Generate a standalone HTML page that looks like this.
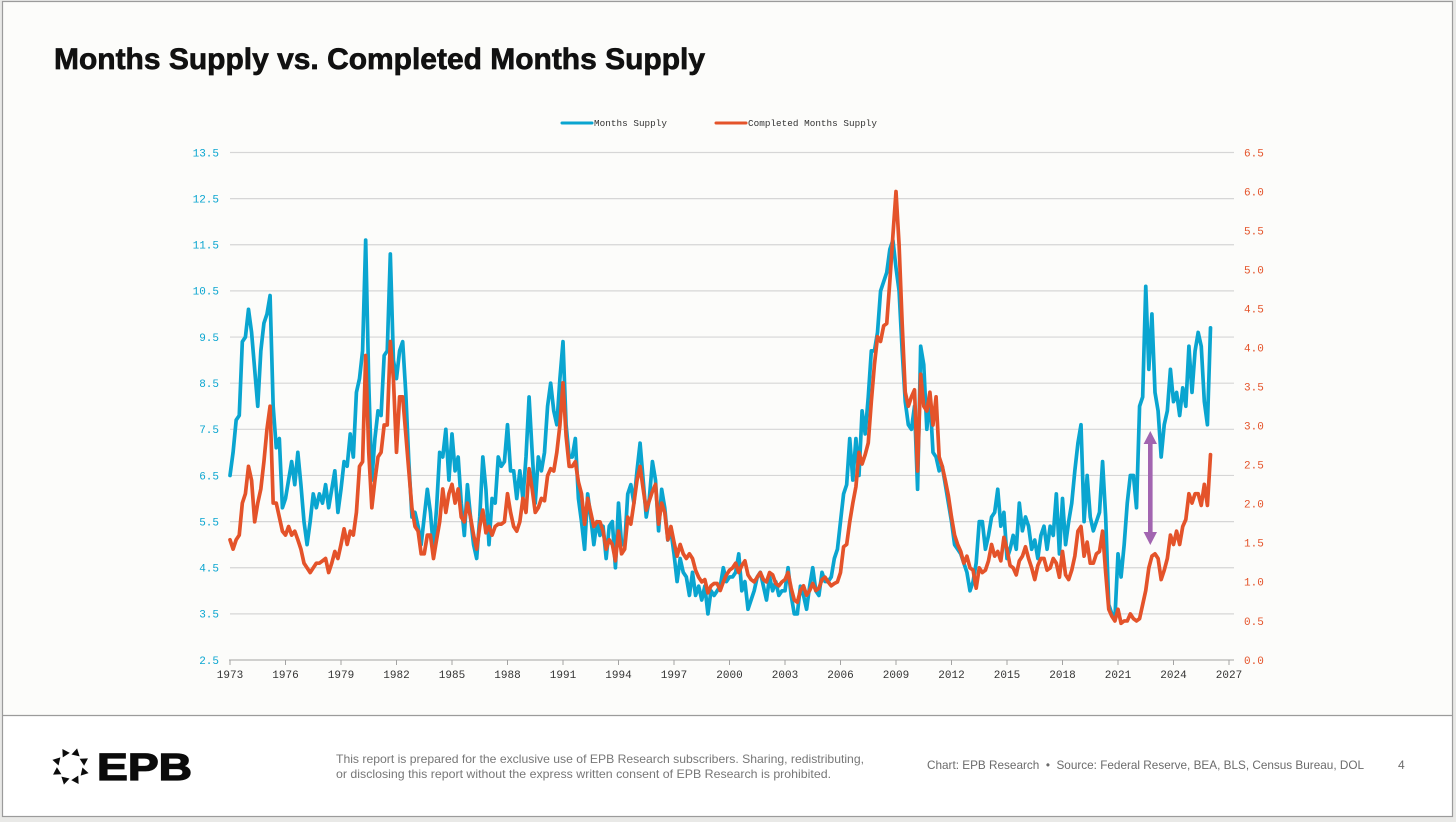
<!DOCTYPE html>
<html lang="en">
<head>
<meta charset="utf-8">
<title>Months Supply vs. Completed Months Supply</title>
<style>
html,body{margin:0;padding:0;background:#e9e9e7;width:1456px;height:822px;overflow:hidden}
svg{display:block}
.mono{font-family:"Liberation Mono",monospace}
.sans{font-family:"Liberation Sans",sans-serif}
</style>
</head>
<body>
<svg id="slide" xmlns="http://www.w3.org/2000/svg" width="1456" height="822" viewBox="0 0 1456 822">
  <rect x="3" y="2" width="1449" height="713" fill="#fcfcfa"/>
  <rect x="3" y="715" width="1449" height="102" fill="#ffffff"/>
  <rect x="2.5" y="1.5" width="1450" height="815" fill="none" stroke="#9b9b9b" stroke-width="1.2"/>
  <line x1="3" y1="715.5" x2="1452" y2="715.5" stroke="#9b9b9b" stroke-width="1.2"/>
  <text class="sans" x="54" y="69" font-size="30" font-weight="700" fill="#111111" stroke="#111111" stroke-width="0.7" textLength="651" lengthAdjust="spacingAndGlyphs">Months Supply vs. Completed Months Supply</text>

  <g>
    <line x1="562" y1="123" x2="592" y2="123" stroke="#0aa5d0" stroke-width="3" stroke-linecap="round"/>
    <text class="mono" x="594" y="126" font-size="9.3" fill="#333333" textLength="73">Months Supply</text>
    <line x1="716" y1="123" x2="746" y2="123" stroke="#e4532a" stroke-width="3" stroke-linecap="round"/>
    <text class="mono" x="748" y="126" font-size="9.3" fill="#333333" textLength="129">Completed Months Supply</text>
  </g>

  <g id="grid"></g>
  <g id="axes"></g>
  <path id="blueLine" fill="none" stroke="#0aa5d0" stroke-width="3.7" stroke-linejoin="round" stroke-linecap="round"/>
  <path id="orangeLine" fill="none" stroke="#e4532a" stroke-width="3.7" stroke-linejoin="round" stroke-linecap="round"/>

  <g fill="#a265b0">
    <rect x="1148" y="442" width="4.6" height="92"/>
    <polygon points="1150.3,431 1157,444 1143.6,444"/>
    <polygon points="1150.3,545 1157,532 1143.6,532"/>
  </g>

  <g id="logoMark" fill="#0b0b0b"></g>
  <text class="sans" x="97" y="780" font-size="38" font-weight="700" fill="#0b0b0b" stroke="#0b0b0b" stroke-width="1.3" textLength="95" lengthAdjust="spacingAndGlyphs">EPB</text>

  <text class="sans" x="336" y="763" font-size="12" fill="#777777" textLength="528" lengthAdjust="spacingAndGlyphs">This report is prepared for the exclusive use of EPB Research subscribers. Sharing, redistributing,</text>
  <text class="sans" x="336" y="778" font-size="12" fill="#777777" textLength="495" lengthAdjust="spacingAndGlyphs">or disclosing this report without the express written consent of EPB Research is prohibited.</text>
  <text class="sans" x="927" y="769" font-size="12" fill="#6b6b6b" textLength="437" lengthAdjust="spacingAndGlyphs">Chart: EPB Research &#160;•&#160; Source: Federal Reserve, BEA, BLS, Census Bureau, DOL</text>
  <text class="sans" x="1398" y="769" font-size="12" fill="#6b6b6b">4</text>
</svg>

<script>
// Chart data: bimonthly readings, starting January 1973
const startYear = 1973;
const yearsPerPoint = 1 / 6;
const leftTicks = [2.5, 3.5, 4.5, 5.5, 6.5, 7.5, 8.5, 9.5, 10.5, 11.5, 12.5, 13.5];
const rightTicks = [0.0, 0.5, 1.0, 1.5, 2.0, 2.5, 3.0, 3.5, 4.0, 4.5, 5.0, 5.5, 6.0, 6.5];
const yearTicks = [1973, 1976, 1979, 1982, 1985, 1988, 1991, 1994, 1997, 2000, 2003, 2006, 2009, 2012, 2015, 2018, 2021, 2024, 2027];
const monthsSupply = [
  6.5,7.0,7.7,7.8,9.4,9.5,
  10.1,9.6,8.8,8.0,9.2,9.8,
  10.0,10.4,8.0,7.1,7.3,5.8,
  6.0,6.4,6.8,6.3,7.0,6.3,
  5.5,5.0,5.5,6.1,5.8,6.1,
  5.9,6.3,5.8,6.2,6.6,5.7,
  6.2,6.8,6.7,7.4,6.9,8.3,
  8.6,9.2,11.6,8.5,6.4,7.3,
  7.9,7.8,9.1,9.2,11.3,9.0,
  8.6,9.2,9.4,8.3,6.8,5.6,
  5.7,5.4,5.0,5.6,6.2,5.7,
  4.9,5.8,7.0,6.9,7.5,6.4,
  7.4,6.6,6.9,5.9,5.2,6.3,
  5.6,5.0,4.7,5.6,6.9,6.2,
  5.0,6.0,5.9,6.9,6.7,6.8,
  7.6,6.6,6.6,6.0,6.6,6.0,
  6.9,8.2,7.0,5.9,6.9,6.6,
  7.0,8.0,8.5,7.9,7.6,8.6,
  9.4,7.6,6.9,6.9,7.3,6.0,
  5.5,4.9,6.1,5.6,5.0,5.5,
  5.2,5.4,4.7,5.4,5.5,4.5,
  5.9,5.0,5.0,6.1,6.3,5.9,
  6.6,7.2,6.4,5.6,6.0,6.8,
  6.4,5.3,6.2,5.8,5.1,5.3,
  4.8,4.2,4.7,4.4,4.3,3.9,
  4.4,3.9,4.1,3.8,4.1,3.5,
  4.0,3.9,4.0,4.1,4.5,4.2,
  4.3,4.3,4.4,4.8,4.0,4.2,
  3.6,3.8,4.0,4.3,4.4,4.1,
  3.8,4.3,4.0,4.2,3.9,4.0,
  4.0,4.5,3.9,3.5,3.5,4.1,
  3.9,3.6,4.1,4.5,4.0,3.9,
  4.4,4.2,4.2,4.3,4.7,4.9,
  5.5,6.1,6.3,7.3,6.4,7.3,
  6.5,7.9,7.4,8.2,9.2,9.2,
  9.6,10.5,10.7,10.9,11.4,11.6,
  11.0,10.5,9.2,8.1,7.6,7.5,
  8.0,6.2,9.3,8.9,7.5,8.2,
  7.0,6.9,6.6,6.7,6.3,5.9,
  5.5,5.0,4.9,4.8,4.6,4.4,
  4.0,4.2,4.6,5.5,5.5,4.9,
  5.2,5.6,5.7,6.2,5.4,5.7,
  4.7,4.9,5.2,4.9,5.9,5.3,
  5.6,5.4,4.9,5.1,4.7,5.2,
  5.4,4.9,5.4,5.2,6.1,4.8,
  6.0,5.0,5.5,5.9,6.6,7.2,
  7.6,5.5,6.5,5.6,5.3,5.5,
  5.7,6.8,5.6,3.7,3.5,3.4,
  4.8,4.3,5.0,5.9,6.5,6.5,
  5.8,8.0,8.2,10.6,8.8,10.0,
  8.3,7.9,6.9,7.6,7.9,8.8,
  8.1,8.3,7.8,8.4,8.0,9.3,
  8.3,9.2,9.6,9.3,8.1,7.6,
  9.7
];
const completedMonthsSupply = [
  1.54,1.42,1.54,1.60,2.01,2.13,
  2.48,2.30,1.77,2.01,2.19,2.54,
  2.96,3.25,2.01,2.01,1.83,1.65,
  1.60,1.71,1.60,1.65,1.54,1.42,
  1.24,1.18,1.12,1.18,1.24,1.24,
  1.27,1.30,1.12,1.24,1.39,1.30,
  1.48,1.68,1.48,1.65,1.60,1.89,
  2.48,2.54,3.90,2.66,1.95,2.30,
  2.60,2.66,3.01,3.01,4.08,3.60,
  2.66,3.37,3.37,2.90,2.42,1.95,
  1.71,1.65,1.36,1.36,1.60,1.60,
  1.30,1.54,1.77,2.19,1.89,2.13,
  2.25,2.01,2.19,1.83,1.77,2.01,
  1.83,1.60,1.42,1.71,1.92,1.63,
  1.71,1.60,1.71,1.74,1.74,1.77,
  2.13,1.89,1.71,1.65,1.77,2.07,
  1.89,2.45,2.19,1.89,1.95,2.07,
  2.04,2.36,2.45,2.42,2.66,3.01,
  3.55,2.87,2.48,2.48,2.54,2.28,
  2.13,1.74,2.07,1.89,1.71,1.77,
  1.77,1.65,1.42,1.54,1.48,1.27,
  1.65,1.36,1.42,1.83,1.74,2.01,
  2.30,2.48,2.19,1.92,2.04,2.16,
  2.25,1.74,2.01,1.89,1.54,1.71,
  1.51,1.33,1.48,1.36,1.30,1.36,
  1.30,1.15,1.06,1.00,1.03,0.86,
  0.95,0.98,0.98,0.89,1.00,1.09,
  1.15,1.18,1.24,1.12,1.21,1.27,
  1.09,1.03,1.00,1.06,1.12,1.03,
  1.00,1.12,1.09,0.98,0.95,1.00,
  1.03,1.12,0.92,0.77,0.74,0.89,
  0.95,0.83,0.89,0.98,0.89,0.92,
  1.03,1.06,1.00,0.95,0.98,1.00,
  1.12,1.45,1.48,1.77,2.01,2.22,
  2.66,2.51,2.63,2.78,3.31,3.78,
  4.14,4.08,4.28,4.31,4.85,5.44,
  6.00,5.32,4.31,3.43,3.25,3.37,
  3.46,2.42,3.66,3.25,3.19,3.43,
  3.01,3.37,2.60,2.48,2.30,2.10,
  1.83,1.60,1.48,1.39,1.24,1.33,
  1.18,1.15,0.92,1.18,1.12,1.15,
  1.27,1.48,1.33,1.39,1.27,1.57,
  1.42,1.21,1.18,1.09,1.27,1.33,
  1.45,1.30,1.18,1.03,1.21,1.30,
  1.30,1.15,1.18,1.30,1.24,1.06,
  1.39,1.09,1.03,1.15,1.33,1.65,
  1.71,1.33,1.51,1.24,1.24,1.36,
  1.39,1.65,1.12,0.65,0.56,0.50,
  0.65,0.47,0.50,0.50,0.59,0.53,
  0.50,0.53,0.71,0.89,1.18,1.33,
  1.36,1.30,1.03,1.15,1.30,1.60,
  1.48,1.65,1.48,1.71,1.80,2.13,
  2.01,2.13,2.13,1.98,2.25,1.98,
  2.63
];

const NS = 'http://www.w3.org/2000/svg';
const plotLeft = 230, plotRight = 1234, plotTop = 152.5, plotBottom = 660;
function xScale(year) { return 230 + (year - 1973) * (1229 - 230) / 54; }
function yLeft(v) { return plotBottom - (v - 2.5) * (plotBottom - plotTop) / 11; }
function yRight(v) { return plotBottom - v * (plotBottom - plotTop) / 6.5; }
function linePath(values, yFn) {
  return values.map(function (v, i) {
    return (i ? 'L' : 'M') + xScale(startYear + i * yearsPerPoint).toFixed(2) + ' ' + yFn(v).toFixed(2);
  }).join('');
}
function svgEl(tag, props) {
  const el = document.createElementNS(NS, tag);
  Object.keys(props).forEach(function (k) { el.setAttribute(k, props[k]); });
  return el;
}

const grid = document.getElementById('grid');
const axes = document.getElementById('axes');

leftTicks.forEach(function (v) {
  const y = yLeft(v);
  if (v !== leftTicks[0]) {
    const g = svgEl('line', { x1: plotLeft, x2: plotRight, y1: y, y2: y, stroke: '#d6d6d6', 'stroke-width': 1.2 });
    
    
    grid.appendChild(g);
  }
  const t = svgEl('text', { x: 219, y: y + 3.8, 'text-anchor': 'end', 'font-size': 11, fill: '#0aa5d0', class: 'mono' });
  
  
  t.textContent = v.toFixed(1);
  axes.appendChild(t);
});

rightTicks.forEach(function (v) {
  const t = svgEl('text', { x: 1244, y: yRight(v) + 3.8, 'font-size': 11, fill: '#e4532a', class: 'mono' });
  
  
  t.textContent = v.toFixed(1);
  axes.appendChild(t);
});

const baseline = svgEl('line', { x1: plotLeft - 1, x2: plotRight, y1: plotBottom, y2: plotBottom, stroke: '#a3a3a3', 'stroke-width': 1 });


axes.appendChild(baseline);

yearTicks.forEach(function (yr) {
  const x = xScale(yr);
  const tick = svgEl('line', { x1: x, x2: x, y1: plotBottom, y2: plotBottom + 5, stroke: '#a3a3a3', 'stroke-width': 1 });
  
  
  axes.appendChild(tick);
  const t = svgEl('text', { x: x, y: plotBottom + 18, 'text-anchor': 'middle', 'font-size': 11, fill: '#333333', class: 'mono' });
  
  
  t.textContent = String(yr);
  axes.appendChild(t);
});

document.getElementById('blueLine').setAttribute('d', linePath(monthsSupply, yLeft));
document.getElementById('orangeLine').setAttribute('d', linePath(completedMonthsSupply, yRight));

const logoMark = document.getElementById('logoMark');
for (let k = 0; k < 8; k++) {
  const a = (k * 45 + 22.5) * Math.PI / 180;
  const cx = 70.5 + Math.cos(a) * 14.5;
  const cy = 766.5 + Math.sin(a) * 14.5;
  const d = a + Math.PI / 2 + 0.35;
  const pts = [0, 2.09, 4.19].map(function (o) {
    return (cx + Math.cos(d + o) * 4.8).toFixed(2) + ',' + (cy + Math.sin(d + o) * 4.8).toFixed(2);
  }).join(' ');
  const tri = svgEl('polygon', { points: pts });
  
  
  logoMark.appendChild(tri);
}
</script>
</body>
</html>
